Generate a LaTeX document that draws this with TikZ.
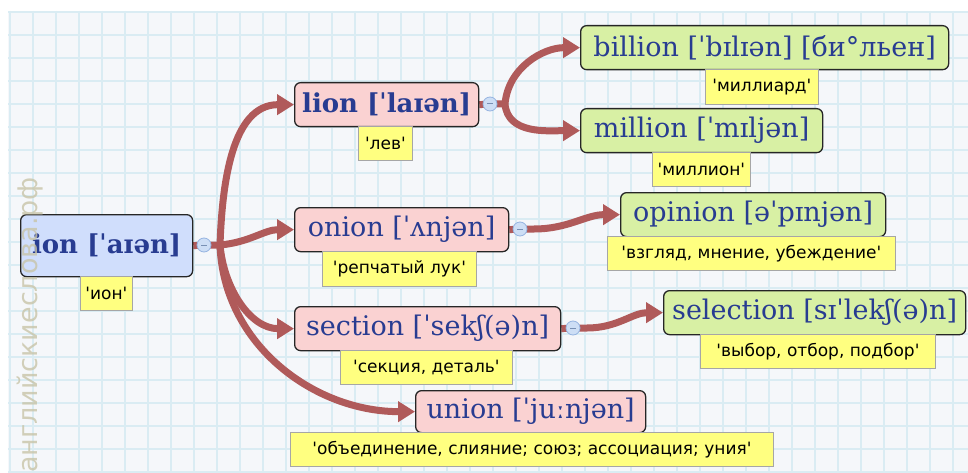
\documentclass[tikz,border=0pt]{standalone}
\usepackage{fontspec}
\setmainfont{DejaVu Serif}
\setsansfont{DejaVu Sans}[Ligatures=TeXOff]
\usetikzlibrary{arrows.meta}
\definecolor{gridc}{RGB}{218,236,243}
\definecolor{bgc}{RGB}{245,247,250}
\definecolor{conn}{RGB}{176,90,90}
\definecolor{ionfill}{RGB}{208,222,252}
\definecolor{pinkfill}{RGB}{250,210,210}
\definecolor{greenfill}{RGB}{216,240,164}
\definecolor{labfill}{RGB}{255,255,128}
\definecolor{wordc}{RGB}{40,60,145}
\definecolor{wm}{RGB}{200,196,168}
\definecolor{circf}{RGB}{205,222,245}
\definecolor{circd}{RGB}{150,180,225}
\pgfdeclarelayer{bg}
\pgfdeclarelayer{mid}
\pgfsetlayers{bg,mid,main}
\begin{document}
\begin{tikzpicture}[x=1pt,y=-1pt,
  word/.style={draw=black!85, line width=1.3pt, rounded corners=6pt, anchor=north west,
    text=wordc, inner sep=0pt, font=\fontsize{27}{29}\selectfont},
  boldword/.style={word, font=\bfseries\fontsize{26}{28}\selectfont},
  ionbox/.style={fill=ionfill},
  pinkbox/.style={fill=pinkfill},
  greenbox/.style={fill=greenfill},
  lab/.style={draw=black!35, line width=0.8pt, fill=labfill, anchor=north west, inner sep=0pt,
    font=\sffamily\fontsize{17}{19}\selectfont, text=black},
  knob/.style={circle, fill=circf, draw=circd, line width=0.8pt, minimum size=14pt, inner sep=0pt},
  link/.style={draw=conn, line width=7pt},
  arr/.style={link, -{Triangle[length=17pt,width=20pt]}}
]
\useasboundingbox (0,0) rectangle (968,473);
\begin{pgfonlayer}{bg}
  \fill[white] (0,0) rectangle (968,473);
  \fill[bgc] (8,11) rectangle (968,473);
  \foreach \x in {10,33,...,968} \draw[gridc, line width=1.3pt] (\x,11) -- (\x,473);
  \foreach \y in {12,35,...,473} \draw[gridc, line width=1.3pt] (8,\y) -- (968,\y);
\end{pgfonlayer}

% word boxes
\node[boldword, ionbox, minimum width=172pt, minimum height=62pt] (ion) at (20,214) {ion [ˈaɪən]};
\node[boldword, pinkbox, minimum width=184pt, minimum height=44pt] (lion) at (294,82) {lion [ˈlaɪən]};
\node[word, pinkbox, minimum width=214pt, minimum height=44pt] (onion) at (294,207) {onion [ˈʌnjən]};
\node[word, pinkbox, minimum width=266pt, minimum height=44pt] (section) at (294,306) {section [ˈsekʃ(ə)n]};
\node[word, pinkbox, minimum width=230pt, minimum height=42pt] (union) at (415,390) {union [ˈjuːnjən]};
\node[word, greenbox, minimum width=368pt, minimum height=44pt] (billion) at (580,25) {billion [ˈbɪlɪən] [би°льен]};
\node[word, greenbox, minimum width=242pt, minimum height=44pt] (million) at (580,108) {million [ˈmɪljən]};
\node[word, greenbox, minimum width=265pt, minimum height=44pt] (opinion) at (620,192) {opinion [əˈpɪnjən]};
\node[word, greenbox, minimum width=302pt, minimum height=44pt] (selection) at (663,290) {selection [sɪˈlekʃ(ə)n]};

% translation labels
\node[lab, minimum width=52pt, minimum height=34pt] (ion-l) at (80,276) {'ион'};
\node[lab, minimum width=54pt, minimum height=34pt] (lion-l) at (358,126) {'лев'};
\node[lab, minimum width=154pt, minimum height=35pt] (onion-l) at (322,251) {'репчатый лук'};
\node[lab, minimum width=172pt, minimum height=34pt] (section-l) at (340,350) {'секция, деталь'};
\node[lab, minimum width=483pt, minimum height=34pt] (union-l) at (290,432) {'объединение, слияние; союз; ассоциация; уния'};
\node[lab, minimum width=113pt, minimum height=35pt] (billion-l) at (705,69) {'миллиард'};
\node[lab, minimum width=98pt, minimum height=34pt] (million-l) at (652,152) {'миллион'};
\node[lab, minimum width=288pt, minimum height=34pt] (opinion-l) at (607,236) {'взгляд, мнение, убеждение'};
\node[lab, minimum width=235pt, minimum height=34pt] (selection-l) at (700,334) {'выбор, отбор, подбор'};

% collapse knobs
\node[knob] (k1) at (204,245) {};
\node[knob] (k2) at (490,104) {};
\node[knob] (k3) at (520,229) {};
\node[knob] (k4) at (573,328) {};
\foreach \k in {k1,k2,k3,k4}
  \draw[circd!80!black, line width=1pt] ([xshift=-3pt]\k.center) -- ([xshift=3pt]\k.center);

\coordinate (h1) at (220,245);
\coordinate (h2) at (505,104);
\coordinate (h3) at (534,229);
\coordinate (h4) at (587,328);

\begin{pgfonlayer}{mid}
  \draw[link] (ion.east) -- (k1.center) -- (h1);
  \draw[arr] (h1) to[out=88,in=180] (lion.west);
  \draw[arr] (h1) to[out=5,in=180] (onion.west);
  \draw[arr] (h1) to[out=-85,in=180] (section.west);
  \draw[arr] (h1) to[out=-88,in=180] (union.west);
  \draw[link] (lion.east) -- (k2.center) -- (h2);
  \draw[arr] (h2) to[out=85,in=180] (billion.west);
  \draw[arr] (h2) to[out=-85,in=180] (million.west);
  \draw[link] (onion.east) -- (k3.center) -- (h3);
  \draw[arr] (h3) to[out=0,in=180] (opinion.west);
  \draw[link] (section.east) -- (k4.center) -- (h4);
  \draw[arr] (h4) to[out=0,in=180] (selection.west);
\end{pgfonlayer}

% watermark
\node[rotate=90, text=wm, opacity=0.8, font=\sffamily\fontsize{27}{29}\selectfont, inner sep=0pt] (wmark) at (30,325) {английскиеслова.рф};
\end{tikzpicture}
\end{document}
